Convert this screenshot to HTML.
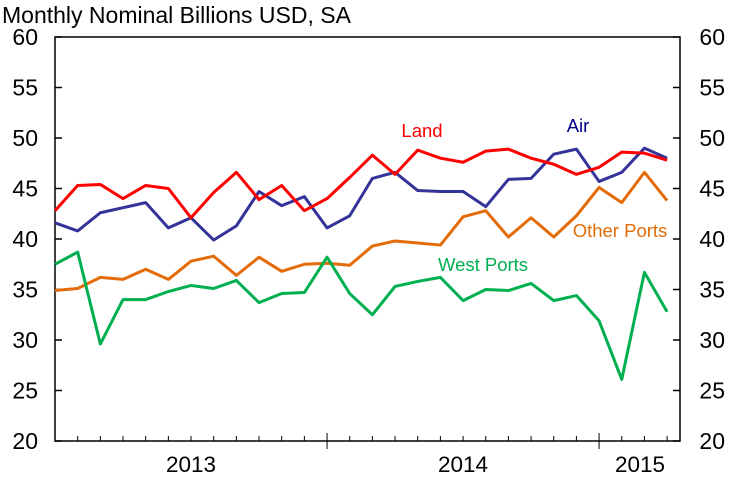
<!DOCTYPE html>
<html><head><meta charset="utf-8"><style>
html,body{margin:0;padding:0;background:#fff;}
svg text{font-family:"Liberation Sans",Arial,sans-serif;}
</style></head><body>
<svg id="chart" width="731" height="478" viewBox="0 0 731 478" xmlns="http://www.w3.org/2000/svg">
<text x="2" y="23" font-size="23" fill="#000">Monthly Nominal Billions USD, SA</text>
<rect x="55" y="37" width="625" height="404" fill="none" stroke="#000" stroke-width="1.5"/>
<g id="axes"></g>
<g id="series"></g>
<text x="422" y="137" font-size="18.5" fill="#ff0000" text-anchor="middle">Land</text>
<text x="578" y="132" font-size="18.5" fill="#00008b" text-anchor="middle">Air</text>
<text x="620" y="237" font-size="18.5" fill="#e36c09" text-anchor="middle">Other Ports</text>
<text x="483" y="271" font-size="18.5" fill="#00b050" text-anchor="middle">West Ports</text>
</svg>
<script>
const yTicks = [20,25,30,35,40,45,50,55,60];
const yearLabels = ["2013","2014","2015"];
const land = [42.8,45.3,45.4,44.0,45.3,45.0,42.1,44.6,46.6,43.9,45.3,42.8,44.0,46.1,48.3,46.4,48.8,48.0,47.6,48.7,48.9,48.0,47.4,46.4,47.1,48.6,48.5,47.8];
const air = [41.6,40.8,42.6,43.1,43.6,41.1,42.1,39.9,41.3,44.7,43.3,44.2,41.1,42.3,46.0,46.6,44.8,44.7,44.7,43.2,45.9,46.0,48.4,48.9,45.7,46.6,49.0,48.0];
const otherPorts = [34.9,35.1,36.2,36.0,37.0,36.0,37.8,38.3,36.4,38.2,36.8,37.5,37.6,37.4,39.3,39.8,39.6,39.4,42.2,42.8,40.2,42.1,40.2,42.3,45.1,43.6,46.6,43.8];
const westPorts = [37.5,38.7,29.6,34.0,34.0,34.8,35.4,35.1,35.9,33.7,34.6,34.7,38.2,34.6,32.5,35.3,35.8,36.2,33.9,35.0,34.9,35.6,33.9,34.4,31.9,26.1,36.7,32.8];

const NS="http://www.w3.org/2000/svg";
const L=55,R=680,T=37,B=441,M=22.67;
const x=i=>L+i*M;
const y=v=>B-(v-20)/40*(B-T);
const axes=document.getElementById('axes');
function mk(tag,attrs,parent){const e=document.createElementNS(NS,tag);for(const k in attrs)e.setAttribute(k,attrs[k]);parent.appendChild(e);return e;}
yTicks.forEach(v=>{
  const yy=y(v);
  const t1=mk('line',{x1:L,x2:L+7,y1:yy,y2:yy,stroke:'#000','stroke-width':1.5},axes);
  
  
  const t2=mk('line',{x1:R-7,x2:R,y1:yy,y2:yy,stroke:'#000','stroke-width':1.5},axes);
  
  
  const a=mk('text',{x:38,y:yy+8,'font-size':23,'text-anchor':'end'},axes);a.textContent=v;
  
  
  const b=mk('text',{x:725,y:yy+8,'font-size':23,'text-anchor':'end'},axes);b.textContent=v;
  
  
});
for(let i=1;i<land.length;i++){
  const yr=i%12===0;
  const t=mk('line',{x1:x(i),x2:x(i),y1:yr?B-8:B-5,y2:yr?B+8:B,stroke:'#000','stroke-width':1},axes);
  
  
}
yearLabels.forEach((s,k)=>{
  const a=x(k*12),b=Math.min(x(k*12+12),R);
  const t=mk('text',{x:k===2?640:(a+b)/2,y:472,'font-size':22.5,'text-anchor':'middle'},axes);t.textContent=s;
  
  
});
const ser=document.getElementById('series');
[[otherPorts,'#e36c09','line-other-ports'],[westPorts,'#00b050','line-west-ports'],[air,'#333399','line-air'],[land,'#ff0000','line-land']].forEach(([d,c,n])=>{
  const p=mk('polyline',{points:d.map((v,i)=>x(i)+','+y(v)).join(' '),fill:'none',stroke:c,'stroke-width':3,'stroke-linejoin':'round'},ser);
  
  
});
</script>
</body></html>
